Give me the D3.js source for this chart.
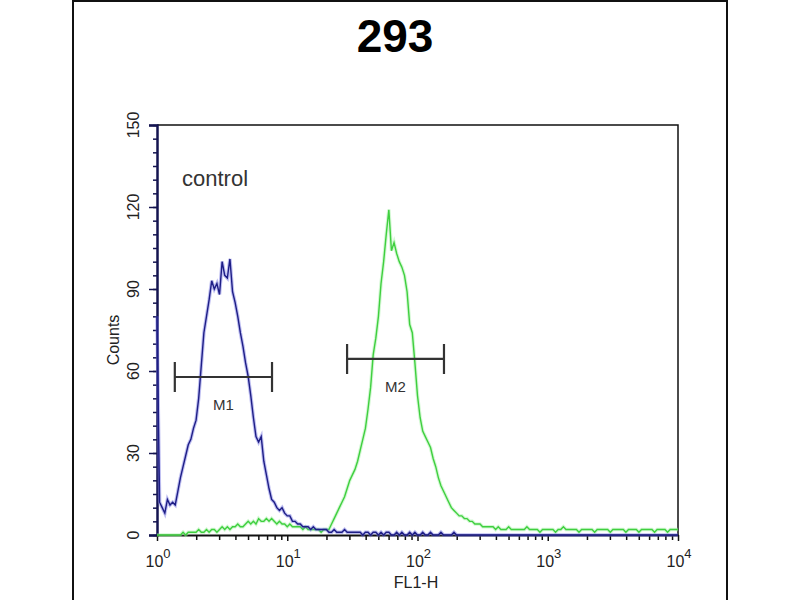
<!DOCTYPE html>
<html>
<head>
<meta charset="utf-8">
<script src="https://cdn.jsdelivr.net/npm/d3@7"></script>
<style>
  body { margin: 0; background: #fff; }
  svg { display: block; font-family: "Liberation Sans", Arial, sans-serif; }
</style>
</head>
<body>
<div id="chart"></div>
<script>
// Histogram bins: 50 bins per decade over 4 decades (bin i sits at 10^(i/50))
const binsPerDecade = 50;

// control (blue) counts per bin
const controlCounts = [
    80,12,10,8,13,11,12,11,16,21,
    25,29,33,35,39,42,50,62,74,80,
    86,93,90,92,88,100,95,94,101,89,
    85,80,74,69,63,58,51,43,36,34,
    36,27,22,17,13,12,10,9,10,8,
    7,7,5,5,4,4,3,3,3,2,
    3,2,2,2,2,2,1,1,2,1,
    1,1,2,1,1,1,1,1,1,0,
    1,1,0,1,1,0,1,0,1,1,
    0,0,1,0,1,0,0,1,0,1,
    0,0,1,0,0,1,0,0,0,1,
    0,0,0,0,1,0,0,0,0,0,
    0,0,0,0,0,0,0,0,0,0,
    0,0,0,0,0,0,0,0,0,0,
    0,0,0,0,0,0,0,0,0,0,
    0,0,0,0,0,0,0,0,0,0,
    0,0,0,0,0,0,0,0,0,0,
    0,0,0,0,0,0,0,0,0,0,
    0,0,0,0,0,0,0,0,0,0,
    0,0,0,0,0,0,0,0,0,0,
    0
];

// sample (green) counts per bin
const sampleCounts = [
    0,0,0,0,0,0,0,0,0,0,
    1,0,1,1,1,1,2,1,1,2,
    1,2,2,1,2,3,2,3,2,3,
    3,4,3,3,4,5,4,5,4,6,
    5,5,6,5,6,5,4,5,4,4,
    3,4,3,3,3,3,2,3,2,2,
    2,2,2,1,2,2,2,4,6,8,
    10,12,14,17,20,22,24,27,31,35,
    39,46,54,66,72,80,92,100,110,119,
    104,107,103,100,98,95,89,77,74,63,
    51,43,38,36,34,32,28,25,21,18,
    16,14,12,10,9,8,7,7,6,6,
    5,5,4,4,4,3,3,3,3,3,
    2,3,2,2,2,3,2,2,2,2,
    2,2,3,2,2,2,2,1,2,2,
    2,2,2,1,2,2,3,2,2,2,
    2,2,1,2,2,2,2,2,1,2,
    2,2,2,2,1,2,2,2,2,2,
    1,2,2,2,2,1,2,2,2,2,
    2,1,2,2,2,2,1,2,2,2,
    2
];

// axis ticks
const yMajorTicks = [0, 30, 60, 90, 120, 150];
const xDecades = [0, 1, 2, 3, 4];

// gates
const markerNames = ["M1", "M2"];
const markerStart = [1.37, 28.8];
const markerEnd = [7.64, 159.7];
const markerLevel = [57.8, 64.4];

const W = 800, H = 600;
const plot = { left: 157, right: 678, top: 125, bottom: 535 };

const svg = d3.select("#chart")
    .append("svg")
    .attr("width", W)
    .attr("height", H);

svg.append("rect")
    .attr("width", W)
    .attr("height", H)
    .attr("fill", "#fff");

// outer frame
svg.append("rect")
    .attr("x", 73)
    .attr("y", 1)
    .attr("width", 654)
    .attr("height", 640)
    .attr("fill", "none")
    .attr("stroke", "#111")
    .attr("stroke-width", 2);

const x = d3.scaleLog()
    .domain([1, 10000])
    .range([plot.left, plot.right]);

const y = d3.scaleLinear()
    .domain([0, 150])
    .range([plot.bottom, plot.top]);

const binValue = i => Math.pow(10, i / binsPerDecade);

// title
svg.append("text")
    .attr("x", 395)
    .attr("y", 52)
    .attr("text-anchor", "middle")
    .style("font-size", "46px")
    .style("font-weight", "bold")
    .attr("fill", "#000")
    .text("293");

// plot frame (top, right)
svg.append("path")
    .attr("d", `M${plot.left},${plot.top}H${plot.right}V${plot.bottom}`)
    .attr("fill", "none")
    .attr("stroke", "#111")
    .attr("stroke-width", 1.5);

// y axis: minor then major ticks
svg.append("g")
    .attr("transform", `translate(${plot.left},0)`)
    .call(d3.axisLeft(y).tickValues(d3.range(0, 151, 5)).tickSize(4).tickFormat(""))
    .call(g => g.select(".domain").remove());

const yAxis = svg.append("g")
    .attr("transform", `translate(${plot.left},0)`)
    .call(d3.axisLeft(y).tickValues(yMajorTicks).tickSize(8).tickFormat(""));
yAxis.select(".domain")
    .attr("stroke", "#141450")
    .attr("stroke-width", 2.5);
svg.selectAll(".tick line").attr("stroke", "#141450").attr("stroke-width", 1.5);

yMajorTicks.forEach(v => {
    svg.append("text")
        .attr("transform", `translate(139,${y(v)}) rotate(-90)`)
        .attr("text-anchor", "middle")
        .style("font-size", "16px")
        .attr("fill", "#222")
        .text(v);
});

svg.append("text")
    .attr("transform", `translate(119,${(plot.top + plot.bottom) / 2 + 10}) rotate(-90)`)
    .attr("text-anchor", "middle")
    .style("font-size", "16px")
    .attr("fill", "#222")
    .text("Counts");

// x axis
const minorX = [];
xDecades.slice(0, -1).forEach(k => {
    for (let m = 2; m <= 9; m++) minorX.push(m * Math.pow(10, k));
});

svg.append("g")
    .attr("transform", `translate(0,${plot.bottom})`)
    .call(d3.axisBottom(x).tickValues(minorX).tickSize(5).tickFormat(""))
    .call(g => g.select(".domain").remove())
    .selectAll(".tick line").attr("stroke", "#111").attr("stroke-width", 1.5);

const xAxis = svg.append("g")
    .attr("transform", `translate(0,${plot.bottom})`)
    .call(d3.axisBottom(x).tickValues(xDecades.map(k => Math.pow(10, k))).tickSize(6).tickSizeOuter(0).tickFormat(""));
xAxis.select(".domain").attr("stroke", "#111").attr("stroke-width", 2);
xAxis.selectAll(".tick line").attr("stroke", "#111").attr("stroke-width", 1.5);

xDecades.forEach(k => {
    const t = svg.append("text")
        .attr("x", x(Math.pow(10, k)) + 1)
        .attr("y", 567)
        .attr("text-anchor", "middle")
        .style("font-size", "16px")
        .attr("fill", "#222");
    t.append("tspan").text("10");
    t.append("tspan")
        .attr("dy", -9)
        .style("font-size", "13px")
        .text(k);
});

svg.append("text")
    .attr("x", 416)
    .attr("y", 588)
    .attr("text-anchor", "middle")
    .style("font-size", "16px")
    .attr("fill", "#222")
    .text("FL1-H");

// histograms, drawn over the axes
const line = d3.line()
    .x((d, i) => x(binValue(i)))
    .y(d => y(d));

function drawTrace(counts, halo, core) {
    svg.append("path")
        .datum(counts)
        .attr("fill", "none")
        .attr("stroke", halo)
        .attr("stroke-width", 3.5)
        .attr("stroke-opacity", 0.45)
        .attr("d", line);
    svg.append("path")
        .datum(counts)
        .attr("fill", "none")
        .attr("stroke", core)
        .attr("stroke-width", 1.4)
        .attr("d", line);
}

drawTrace(sampleCounts, "#9ef09e", "#3fcf3f");
drawTrace(controlCounts, "#6f6fe0", "#1e1e86");

// control label
svg.append("text")
    .attr("x", 182)
    .attr("y", 186)
    .style("font-size", "22px")
    .attr("fill", "#333")
    .text("control");

// gate markers
markerNames.forEach((name, i) => {
    const x0 = x(markerStart[i]), x1 = x(markerEnd[i]), yy = y(markerLevel[i]);
    svg.append("path")
        .attr("d", `M${x0},${yy - 15}V${yy + 15}M${x0},${yy}H${x1}M${x1},${yy - 15}V${yy + 15}`)
        .attr("fill", "none")
        .attr("stroke", "#333")
        .attr("stroke-width", 2.2);
    svg.append("text")
        .attr("x", (x0 + x1) / 2)
        .attr("y", yy + 33)
        .attr("text-anchor", "middle")
        .style("font-size", "15px")
        .attr("fill", "#333")
        .text(name);
});
</script>
</body>
</html>
